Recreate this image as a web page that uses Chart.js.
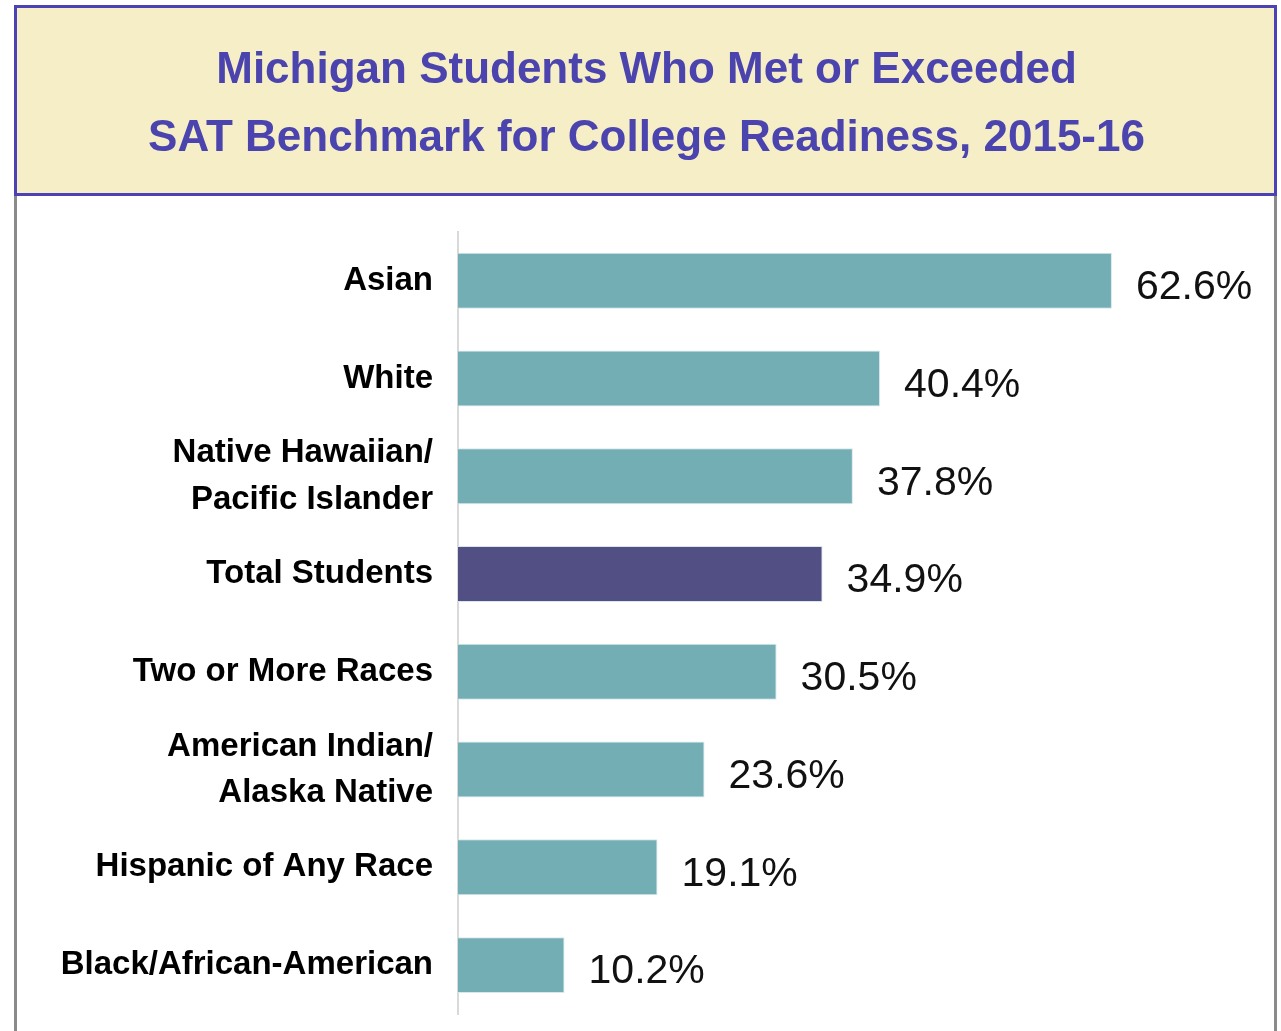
<!DOCTYPE html>
<html>
<head>
<meta charset="utf-8">
<script src="https://cdn.jsdelivr.net/npm/chart.js@4"></script>
<style>
  html, body { margin: 0; padding: 0; background: #ffffff; }
  #wrap { width: 1281px; height: 1031px; position: relative; }
</style>
</head>
<body>
<div id="wrap"><canvas id="myChart" width="1281" height="1031"></canvas></div>
<script>
// chart data
const categories = [
  "Asian",
  "White",
  ["Native Hawaiian/", "Pacific Islander"],
  "Total Students",
  "Two or More Races",
  ["American Indian/", "Alaska Native"],
  "Hispanic of Any Race",
  "Black/African-American"
];
const percentMet = [62.6, 40.4, 37.8, 34.9, 30.5, 23.6, 19.1, 10.2];
const highlightIndex = 3; // Total Students
const titleLines = [
  "Michigan Students Who Met or Exceeded",
  "SAT Benchmark for College Readiness, 2015-16"
];

const teal = "#74aeb5";
const purple = "#524f84";
const barColors = percentMet.map((v, i) => (i === highlightIndex ? purple : teal));

// title box + side frame
const frameBox = {
  id: "frameBox",
  beforeDraw(chart) {
    const c = chart.ctx;
    c.save();
    // gray side lines below the title box
    c.strokeStyle = "#8a8a8a";
    c.lineWidth = 3;
    c.beginPath();
    c.moveTo(15.5, 195);
    c.lineTo(15.5, 1031);
    c.moveTo(1275.5, 195);
    c.lineTo(1275.5, 1031);
    c.stroke();
    // title box
    c.fillStyle = "#f5eec6";
    c.fillRect(15, 6, 1261, 189);
    c.strokeStyle = "#4a42b5";
    c.lineWidth = 3;
    c.strokeRect(15.5, 6.5, 1260, 188);
    c.restore();
  }
};

// value labels at bar ends
const valueLabels = {
  id: "valueLabels",
  afterDatasetsDraw(chart) {
    const c = chart.ctx;
    const meta = chart.getDatasetMeta(0);
    c.save();
    c.font = "41px 'Liberation Sans', Arial, sans-serif";
    c.fillStyle = "#111111";
    c.textAlign = "left";
    c.textBaseline = "middle";
    meta.data.forEach((bar, i) => {
      c.fillText(percentMet[i].toFixed(1) + "%", bar.x + 24, bar.y + 7);
    });
    c.restore();
  }
};

const ctx = document.getElementById("myChart").getContext("2d");
new Chart(ctx, {
  type: "bar",
  data: {
    labels: categories,
    datasets: [{
      data: percentMet,
      backgroundColor: barColors,
      borderColor: "#d8e8ea",
      borderWidth: 1,
      categoryPercentage: 0.8,
      barPercentage: 0.716
    }]
  },
  options: {
    indexAxis: "y",
    responsive: false,
    animation: false,
    layout: { padding: { left: 28, right: 16, top: 0, bottom: 17 } },
    plugins: {
      legend: { display: false },
      tooltip: { enabled: false },
      title: {
        display: true,
        text: titleLines,
        color: "#4b44ae",
        font: { family: "'Liberation Sans', Arial, sans-serif", size: 44, weight: "bold", lineHeight: 1.545 },
        padding: { top: 37, bottom: 59 }
      }
    },
    scales: {
      x: {
        display: false,
        min: 0,
        max: 77.25
      },
      y: {
        afterFit(scale) {
          scale.width = 430;
          scale.paddingTop = 0;
          scale.paddingBottom = 0;
        },
        grid: { display: false, drawTicks: false },
        border: { display: true, color: "#d9d9d9", width: 2 },
        ticks: {
          color: "#000000",
          padding: 25,
          font: { family: "'Liberation Sans', Arial, sans-serif", size: 33, weight: "bold", lineHeight: 1.4 }
        }
      }
    }
  },
  plugins: [frameBox, valueLabels]
});
</script>
</body>
</html>
